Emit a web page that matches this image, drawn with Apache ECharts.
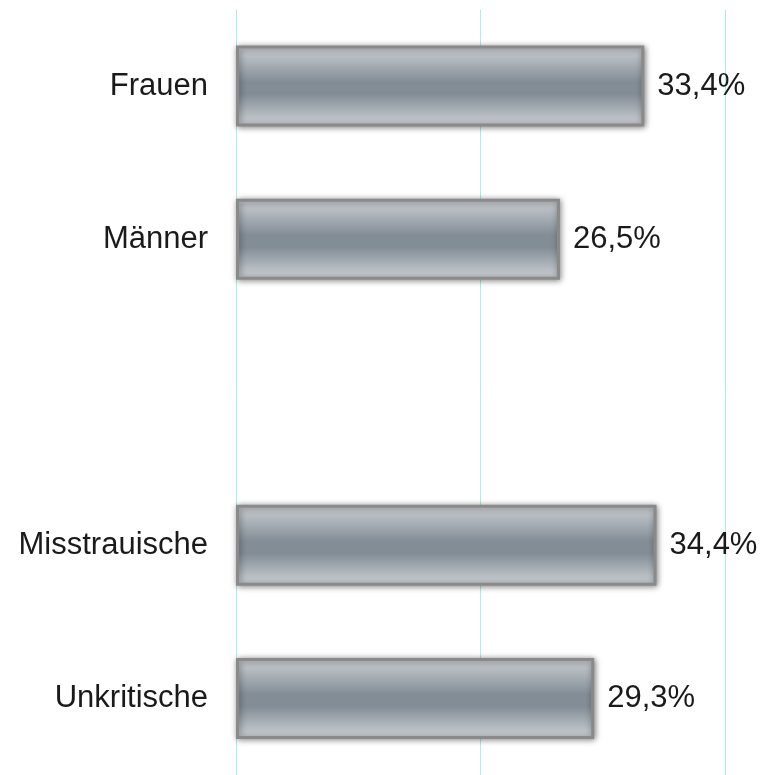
<!DOCTYPE html>
<html>
<head>
<meta charset="utf-8">
<script src="https://cdn.jsdelivr.net/npm/echarts@6/dist/echarts.min.js"></script>
<style>
  html, body { margin: 0; padding: 0; background: #fff; }
  #chart { width: 765px; height: 775px; }
</style>
</head>
<body>
<div id="chart"></div>
<script>
// categories top to bottom, empty slot is the gap between the two groups
const categories = ['Frauen', 'Männer', '', 'Misstrauische', 'Unkritische'];
const values = [33.4, 26.5, null, 34.4, 29.3];
const axisTicks = [0, 20, 40];

const chart = echarts.init(document.getElementById('chart'));

// bar fill: light at the edges, darker slate in the middle
const barFill = new echarts.graphic.LinearGradient(0, 0, 0, 1, [
  { offset: 0, color: '#cdd1d5' },
  { offset: 0.45, color: '#838d96' },
  { offset: 0.6, color: '#838d96' },
  { offset: 1, color: '#cfd4d8' }
]);

const option = {
  animation: false,
  grid: { left: 236, right: 40, top: 9.5, bottom: 0, containLabel: false },
  xAxis: {
    type: 'value',
    min: axisTicks[0],
    max: axisTicks[axisTicks.length - 1],
    interval: axisTicks[1] - axisTicks[0],
    axisLabel: { show: false },
    axisTick: { show: false },
    axisLine: { show: false },
    splitLine: { show: true, lineStyle: { color: '#a8f0ea', width: 1 } }
  },
  yAxis: {
    type: 'category',
    inverse: true,
    data: categories,
    axisLine: { show: false },
    axisTick: { show: false },
    axisLabel: {
      margin: 28,
      fontFamily: 'Liberation Sans, Arial, sans-serif',
      fontSize: 31,
      color: '#1a1a1a'
    }
  },
  series: [{
    type: 'bar',
    data: values,
    barWidth: 81,
    itemStyle: {
      color: barFill,
      borderColor: '#8a8a8a',
      borderWidth: 3,
      shadowColor: 'rgba(0,0,0,0.45)',
      shadowBlur: 6,
      shadowOffsetX: 1,
      shadowOffsetY: 1
    },
    label: {
      show: true,
      position: 'right',
      distance: 13,
      fontFamily: 'Liberation Sans, Arial, sans-serif',
      fontSize: 31,
      color: '#1a1a1a',
      formatter: p => p.value.toFixed(1).replace('.', ',') + '%'
    }
  }]
};

chart.setOption(option);
</script>
</body>
</html>
